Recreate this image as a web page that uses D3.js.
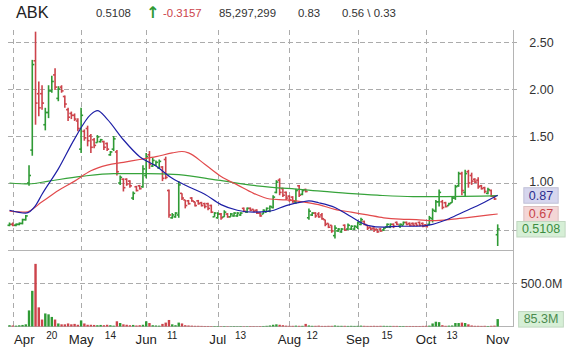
<!DOCTYPE html>
<html>
<head>
<meta charset="utf-8">
<script src="https://cdn.jsdelivr.net/npm/d3@7"></script>
<style>
body { margin: 0; background: #fff; }
svg { display: block; font-family: "Liberation Sans", Arial, sans-serif; }
</style>
</head>
<body>
<div id="chart"></div>
<script>
// trading days Mar 31 .. Nov 2 (weekends + holidays skipped)
var firstDay = new Date(2009, 2, 31), lastDay = new Date(2009, 10, 2);
var holidays = ["2009-04-10", "2009-05-25", "2009-07-03", "2009-09-07"];

var opens = [
  .55,.56,.55,.56,.57,.61,1.00,1.35,2.30,1.95,
  1.95,1.62,1.75,1.98,2.15,1.90,2.02,1.92,1.78,1.74,
  1.72,1.66,1.36,1.55,1.58,1.50,1.46,1.43,1.44,1.44,
  1.42,1.30,1.36,1.33,1.00,1.04,1.04,1.02,.84,.96,
  .97,.96,1.08,1.30,1.18,1.19,1.16,1.17,1.25,.92,
  .63,.64,.66,.89,.82,.81,.84,.80,.81,.79,
  .78,.78,.76,.64,.63,.67,.64,.67,.64,.65,
  .65,.66,.73,.69,.73,.72,.71,.68,.67,.69,
  .70,.74,.90,1.03,.94,.90,.86,.85,.80,.97,
  .88,.93,.63,.66,.68,.67,.66,.61,.57,.55,
  .44,.49,.48,.55,.51,.51,.51,.53,.56,.59,
  .55,.53,.52,.51,.51,.50,.53,.53,.56,.58,
  .54,.55,.58,.57,.57,.57,.58,.57,.555,.56,
  .62,.70,.80,.80,.79,.76,.79,.84,.97,1.10,
  .90,1.12,1.08,1.04,1.03,.97,.95,.89,.92,.86,
  .45];
var highs = [
  .58,.58,.57,.58,.62,.66,1.19,2.31,2.61,2.08,
  2.04,1.80,2.04,2.14,2.22,2.03,2.04,1.93,1.80,1.76,
  1.74,1.69,1.80,1.57,1.61,1.52,1.48,1.51,1.47,1.45,
  1.43,1.34,1.50,1.35,1.08,1.05,1.05,1.03,.91,.97,
  .98,1.19,1.32,1.34,1.27,1.24,1.25,1.18,1.28,.93,
  .68,.69,1.02,.89,.82,.82,.85,.80,.82,.80,
  .79,.79,.77,.69,.69,.68,.71,.68,.68,.69,
  .69,.69,.74,.74,.74,.72,.72,.69,.72,.74,
  .76,.87,1.03,1.05,.95,.91,.87,.86,.94,.98,
  .93,.94,.73,.69,.69,.69,.68,.61,.57,.55,
  .55,.52,.52,.56,.57,.55,.55,.59,.63,.60,
  .55,.53,.53,.51,.52,.53,.57,.57,.57,.59,
  .57,.59,.59,.58,.58,.58,.59,.58,.56,.65,
  .73,.82,.93,.82,.80,.79,.85,.98,1.12,1.12,
  1.14,1.14,1.11,1.05,1.06,.98,.96,.95,.93,.87,
  .56];
var lows = [
  .54,.54,.54,.55,.56,.60,.97,1.29,1.62,1.71,
  1.78,1.56,1.69,1.96,1.99,1.87,1.96,1.80,1.66,1.68,
  1.66,1.55,1.32,1.45,1.39,1.32,1.37,1.43,1.43,1.35,
  1.34,1.29,1.34,1.08,.98,.91,.97,.95,.82,.91,
  .93,.95,1.05,1.15,1.17,1.18,1.15,1.02,1.04,.63,
  .62,.63,.63,.82,.73,.77,.80,.75,.77,.75,
  .73,.71,.68,.64,.62,.61,.64,.63,.64,.64,
  .64,.65,.69,.68,.70,.69,.67,.64,.67,.69,
  .69,.73,.89,.87,.85,.82,.80,.79,.78,.85,
  .87,.90,.61,.65,.63,.63,.61,.54,.52,.47,
  .41,.48,.47,.49,.50,.50,.50,.51,.55,.55,
  .50,.50,.48,.47,.48,.49,.52,.52,.52,.55,
  .52,.55,.55,.54,.54,.54,.54,.53,.53,.55,
  .58,.69,.75,.72,.74,.76,.79,.82,.96,.87,
  .85,.95,.98,1.00,.94,.93,.89,.88,.85,.82,
  .33];
var closes = [
  .56,.55,.56,.57,.61,.65,1.08,2.26,1.85,1.80,
  1.85,1.75,1.98,2.08,2.02,2.00,1.98,1.84,1.70,1.72,
  1.68,1.58,1.72,1.48,1.45,1.38,1.40,1.49,1.46,1.38,
  1.36,1.33,1.47,1.12,1.06,.95,.99,.97,.89,.92,
  .94,1.15,1.28,1.20,1.24,1.22,1.23,1.05,1.06,.66,
  .66,.68,.98,.84,.76,.78,.81,.76,.78,.76,
  .75,.73,.69,.68,.67,.63,.69,.64,.67,.68,
  .68,.68,.70,.73,.71,.70,.68,.65,.71,.73,
  .75,.85,1.01,.90,.87,.84,.82,.80,.92,.87,
  .92,.91,.70,.68,.65,.64,.62,.56,.53,.49,
  .52,.51,.51,.50,.55,.54,.54,.58,.61,.56,
  .52,.51,.50,.48,.49,.52,.56,.56,.54,.56,
  .56,.58,.56,.55,.55,.55,.55,.54,.535,.63,
  .71,.80,.90,.74,.75,.78,.84,.96,1.10,.92,
  1.10,1.00,1.02,1.01,.96,.94,.91,.93,.86,.83,
  .5108];
// volume in millions
var volumes = [
  15,12,10,14,18,25,185,410,720,220,
  80,150,140,110,80,35,25,25,35,25,
  30,20,70,35,20,20,18,15,18,15,
  20,15,10,60,40,25,20,15,18,12,
  15,20,60,40,15,12,10,30,45,75,
  25,15,45,35,15,12,10,8,8,7,
  6,6,5,5,5,4,5,4,4,5,
  4,5,4,4,5,5,4,5,6,8,
  12,20,25,20,15,10,8,8,10,8,
  8,30,12,8,8,10,7,7,8,8,
  12,8,8,8,7,8,7,8,10,8,
  7,7,8,7,8,8,7,7,7,7,
  6,6,6,6,6,6,6,7,8,10,
  35,55,50,15,8,10,12,40,40,45,
  40,25,12,8,8,7,8,6,8,10,
  85.3];

// moving averages, read at some bar numbers
var blueAt  = [0,5,8,10,15,20,25,27,30,35,40,45,50,55,60,65,70,75,80,85,90,92,95,100,105,110,115,120,125,130,135,140,145,150];
var blueMA  = [.71,.68,.76,.88,1.15,1.47,1.73,1.77,1.68,1.46,1.28,1.18,1.05,.96,.88,.77,.71,.69,.70,.76,.80,.81,.79,.74,.64,.55,.53,.54,.54,.56,.62,.70,.78,.87];
var redAt   = [0,5,10,15,20,25,30,35,40,45,50,53,55,60,65,70,75,80,85,90,95,100,105,110,115,120,125,130,135,140,145,150];
var redMA   = [.70,.69,.80,.92,1.02,1.13,1.19,1.22,1.25,1.28,1.32,1.335,1.32,1.20,1.07,.98,.89,.83,.82,.80,.77,.72,.69,.66,.63,.615,.61,.60,.61,.63,.65,.67];
var greenAt = [0,6,12,22,32,42,52,64,76,90,104,113,124,134,145,150];
var greenMA = [1.00,.99,1.02,1.07,1.10,1.10,1.09,1.03,.97,.93,.89,.87,.855,.855,.86,.865];

var monthDays   = ["2009-04-01","2009-05-01","2009-06-01","2009-07-01","2009-08-03","2009-09-01","2009-10-01","2009-11-02"];
var monthLabels = ["Apr","May","Jun","Jul","Aug","Sep","Oct","Nov"];
var midDays     = ["2009-04-20","2009-05-14","2009-06-11","2009-07-13","2009-08-12","2009-09-15","2009-10-13"];
var midLabels   = ["20","14","11","13","12","15","13"];
var priceTicks  = [0.5, 1, 1.5, 2, 2.5];
var priceLabels = [1, 1.5, 2, 2.5];   // 0.50 sits under the last-price badge
var volTicks    = [500];

var headerTexts = ["ABK", "0.5108", "\u2191", "-0.3157", "85,297,299", "0.83", "0.56 \\ 0.33"];

var W = 566, H = 352;
var fmt = d3.timeFormat("%Y-%m-%d");
var days = d3.timeDay.range(firstDay, d3.timeDay.offset(lastDay, 1))
  .filter(function(d) { return d.getDay() != 0 && d.getDay() != 6 && holidays.indexOf(fmt(d)) < 0; })
  .map(fmt);

var bars = days.map(function(d, i) {
  return {day: d, o: opens[i], h: highs[i], l: lows[i], c: closes[i], v: volumes[i]};
});

var upColor = "#2f9a35", downColor = "#cc434b", gridColor = "#ababab";

var svg = d3.select("#chart").append("svg")
  .attr("width", W).attr("height", H);

var x = d3.scalePoint().domain(days).range([9.5, 497.7]);
var y = d3.scaleLinear().domain([0.5, 2.5]).range([230, 42]);
var yv = d3.scaleLinear().domain([0, 500]).range([326.5, 283]);

var left = 8, axisX = 513.5;

// grid
var grid = svg.append("g").attr("stroke", gridColor).attr("shape-rendering", "crispEdges");
grid.selectAll(".hp").data(priceTicks).enter().append("line")
  .attr("x1", left).attr("x2", axisX + 5)
  .attr("y1", function(d) { return Math.round(y(d)) + 0.5; })
  .attr("y2", function(d) { return Math.round(y(d)) + 0.5; })
  .attr("stroke-dasharray", "5,3");
grid.selectAll(".hv").data(volTicks).enter().append("line")
  .attr("x1", left).attr("x2", axisX + 5)
  .attr("y1", function(d) { return Math.round(yv(d)) + 0.5; })
  .attr("y2", function(d) { return Math.round(yv(d)) + 0.5; })
  .attr("stroke-dasharray", "5,3");
var gridDays = monthDays.slice(0, 7);
[[30, 250], [258, 326]].forEach(function(r) {
  grid.selectAll(null).data(gridDays).enter().append("line")
    .attr("x1", function(d) { return Math.round(x(d)) + 0.5; })
    .attr("x2", function(d) { return Math.round(x(d)) + 0.5; })
    .attr("y1", r[0]).attr("y2", r[1])
    .attr("stroke-dasharray", "5,4");
});

// frame lines
var frame = svg.append("g").attr("stroke", "#b4b4b4").attr("shape-rendering", "crispEdges");
frame.append("line").attr("x1", left).attr("x2", axisX).attr("y1", 250.5).attr("y2", 250.5);
frame.append("line").attr("x1", left).attr("x2", axisX).attr("y1", 326.5).attr("y2", 326.5);
frame.append("line").attr("x1", axisX).attr("x2", axisX).attr("y1", 30).attr("y2", 327);

// volume
svg.append("g").selectAll("rect").data(bars).enter().append("rect")
  .attr("x", function(d) { return x(d.day) - 1.2; })
  .attr("width", 2.4)
  .attr("y", function(d) { return yv(d.v); })
  .attr("height", function(d) { return yv(0) - yv(d.v); })
  .attr("fill", function(d) { return d.c >= d.o ? upColor : downColor; });

// OHLC bars
var ohlc = svg.append("g").attr("stroke-width", 1.6)
  .selectAll("g").data(bars).enter().append("g")
  .attr("stroke", function(d) { return d.c >= d.o ? upColor : downColor; });
ohlc.append("line")
  .attr("x1", function(d) { return x(d.day); }).attr("x2", function(d) { return x(d.day); })
  .attr("y1", function(d) { return y(d.h); }).attr("y2", function(d) { return y(d.l); });
ohlc.append("line")
  .attr("x1", function(d) { return x(d.day) - 2; }).attr("x2", function(d) { return x(d.day); })
  .attr("y1", function(d) { return y(d.o); }).attr("y2", function(d) { return y(d.o); });
ohlc.append("line")
  .attr("x1", function(d) { return x(d.day); }).attr("x2", function(d) { return x(d.day) + 2; })
  .attr("y1", function(d) { return y(d.c); }).attr("y2", function(d) { return y(d.c); });

// moving averages
var maLine = d3.line()
  .x(function(d) { return x(days[d[0]]); })
  .y(function(d) { return y(d[1]); })
  .curve(d3.curveMonotoneX);
[[greenAt, greenMA, "#36a33a"], [redAt, redMA, "#e24a4c"], [blueAt, blueMA, "#1d1fa6"]].forEach(function(m) {
  svg.append("path")
    .datum(d3.zip(m[0], m[1]))
    .attr("fill", "none")
    .attr("stroke", m[2])
    .attr("stroke-width", 1.2)
    .attr("d", maLine);
});

// right axes
var pAxis = svg.append("g").attr("transform", "translate(" + axisX + ",0)")
  .call(d3.axisRight(y).tickValues(priceLabels).tickSize(0).tickFormat(d3.format(".2f")));
var vAxis = svg.append("g").attr("transform", "translate(" + axisX + ",0)")
  .call(d3.axisRight(yv).tickValues(volTicks).tickSize(0).tickFormat(function(d) { return d.toFixed(1) + "M"; }));
[pAxis, vAxis].forEach(function(a) {
  a.select(".domain").remove();
  a.selectAll(".tick text")
    .attr("x", 28).attr("text-anchor", "middle")
    .attr("font-family", "Liberation Sans, Arial, sans-serif")
    .attr("font-size", 12.5).attr("fill", "#333");
});
pAxis.selectAll(".tick").filter(function(d) { return d == 1; })
  .select("text").attr("dy", "0.2em");

// value badges
function badge(yPos, label, bg, fg) {
  var g = svg.append("g");
  var t = g.append("text").attr("x", 541).attr("y", yPos).attr("dy", "0.35em")
    .attr("text-anchor", "middle").attr("font-size", 12.5).attr("fill", fg).text(label);
  var w = t.node().getComputedTextLength();
  g.insert("rect", "text")
    .attr("x", 541 - w / 2 - 5).attr("width", w + 10)
    .attr("y", yPos - 7.5).attr("height", 15.5)
    .attr("fill", bg).attr("stroke", d3.color(bg).darker(0.3));
}
badge(y(blueMA[blueMA.length - 1]), blueMA[blueMA.length - 1].toFixed(2), "#d6d6ee", "#2b2d8e");
badge(y(redMA[redMA.length - 1]), redMA[redMA.length - 1].toFixed(2), "#f4d6d6", "#c8434a");
badge(y(closes[closes.length - 1]), closes[closes.length - 1].toFixed(4), "#d6efd6", "#3c8c40");
badge(yv(volumes[volumes.length - 1]), volumes[volumes.length - 1].toFixed(1) + "M", "#d6efd6", "#4a8a4e");

// time labels
svg.append("g").selectAll("text").data(monthDays).enter().append("text")
  .attr("x", function(d) { return x(d); })
  .attr("y", 344)
  .attr("text-anchor", "middle")
  .attr("font-size", 13.2).attr("fill", "#222")
  .text(function(d, i) { return monthLabels[i]; })
  .each(function() {
    var w = this.getComputedTextLength(), cx = +this.getAttribute("x");
    if (cx - w / 2 < 14) d3.select(this).attr("x", 14 + w / 2);
  });
svg.append("g").selectAll("text").data(midDays).enter().append("text")
  .attr("x", function(d) { return x(d); })
  .attr("y", 339)
  .attr("text-anchor", "middle")
  .attr("font-size", 10).attr("fill", "#222")
  .text(function(d, i) { return midLabels[i]; });

// header
var headerX = [16, 96, 146, 163, 219, 298, 342];
var headerFill = ["#222", "#333", "#2f9a35", "#cc434b", "#333", "#333", "#333"];
svg.append("g").selectAll("text").data(headerTexts).enter().append("text")
  .attr("x", function(d, i) { return headerX[i]; })
  .attr("y", function(d, i) { return i == 0 ? 18 : (i == 2 ? 17.5 : 16.5); })
  .attr("font-family", function(d, i) { return i == 2 ? "DejaVu Sans" : null; })
  .attr("font-size", function(d, i) { return i == 0 ? 16.3 : (i == 2 ? 16 : 11.4); })
  .attr("font-weight", function(d, i) { return i == 2 ? "bold" : "normal"; })
  .attr("fill", function(d, i) { return headerFill[i]; })
  .text(function(d) { return d; });
</script>
</body>
</html>
